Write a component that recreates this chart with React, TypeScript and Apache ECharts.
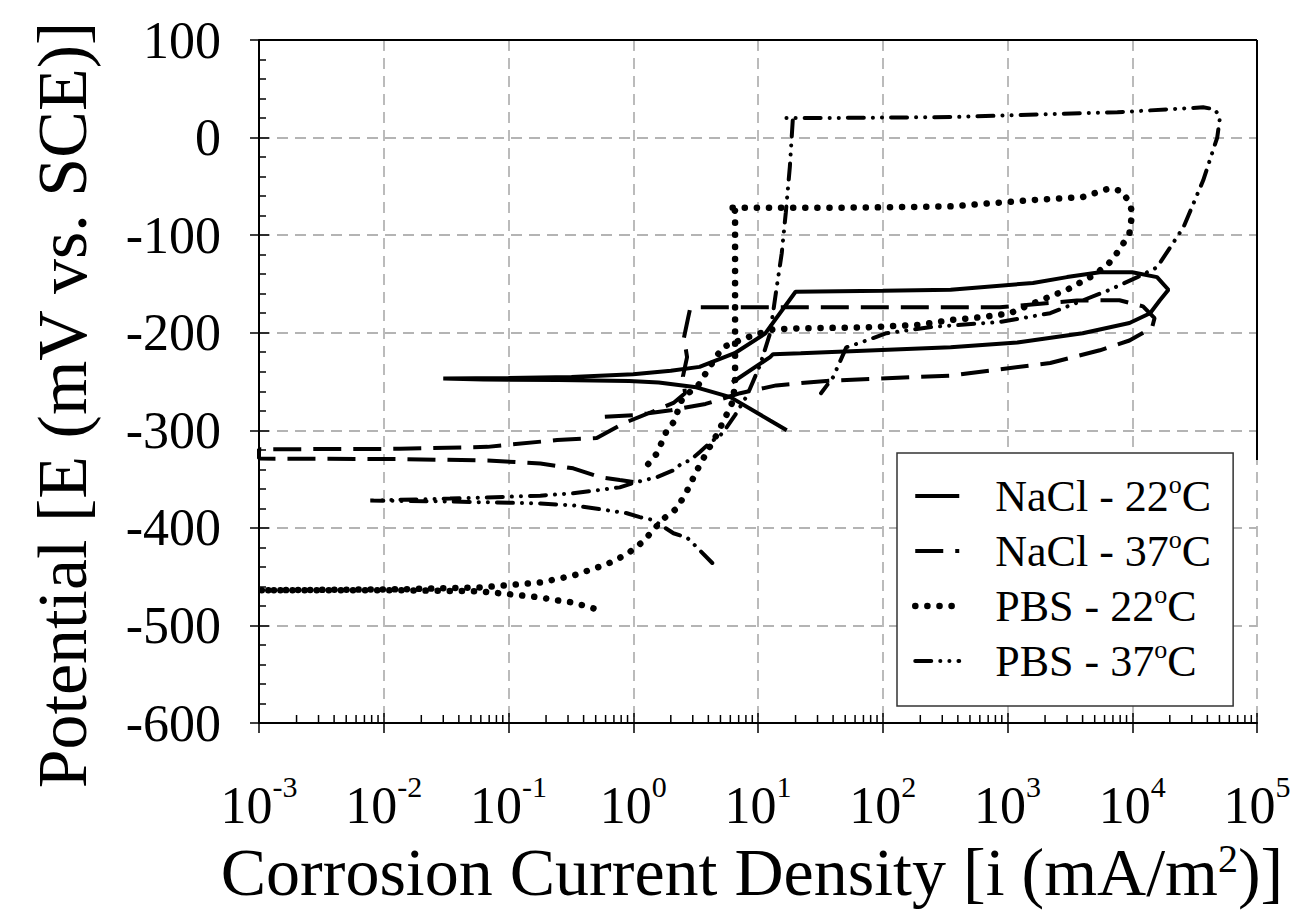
import React, { useEffect, useRef } from "react";
import * as echarts from "echarts";

// ---- axis settings ----
const xMin = 0.001;
const xMax = 100000;
const yMin = -600;
const yMax = 100;
const yStep = 100;

// minor tick multipliers for the log axis (2..9 inside each decade)
const decadeStarts = [0.001, 0.01, 0.1, 1, 10, 100, 1000, 10000];
const minorMultipliers = [2, 3, 4, 5, 6, 7, 8, 9];

const seriesNames = ["NaCl - 22oC", "NaCl - 37oC", "PBS - 22oC", "PBS - 37oC"];

// ---- data: [current density (mA/m2), potential (mV vs SCE)] ----
const nacl22: [number, number][] = [
  [17, -300], [12.5, -290], [6.0, -266], [3.2, -256], [1.6, -251], [0.93, -249.5],
  [0.25, -248.5], [0.063, -248], [0.03, -247], [0.1, -246.5], [0.32, -245.5],
  [1.0, -242.5], [2.0, -239], [3.4, -235], [6.5, -221], [11.4, -201], [20, -158],
  [100, -157], [350, -156], [1600, -149], [3000, -143], [5500, -138], [10000, -138],
  [15800, -143], [19500, -156], [16600, -167], [13900, -180], [9500, -190],
  [4000, -200.5], [1200, -210], [350, -215], [22, -221], [13.2, -222], [12.5, -225],
  [6.2, -251],
];

const nacl37: [number, number][] = [
  [1.0, -353], [0.78, -351], [0.54, -348], [0.33, -339], [0.18, -334], [0.068, -331],
  [0.0135, -329.5], [0.001, -329],
  [0.001, -319.5], [0.0135, -319], [0.068, -317], [0.245, -310], [0.51, -308],
  [0.83, -293], [1.36, -282], [2.1, -272], [2.6, -262], [2.5, -245], [2.7, -225],
  [2.55, -205], [2.75, -185], [2.85, -176], [3.2, -174], [10, -174], [100, -174],
  [870, -174], [3600, -167], [7900, -166.7], [12200, -173], [15100, -185],
  [14400, -195], [9500, -208], [5500, -218], [2200, -231], [350, -244], [40, -249],
  [25, -251], [14, -254], [7.2, -262], [3.8, -273], [2.0, -279.5], [1.0, -284.5],
  [0.54, -286.5],
];

const pbs22: [number, number][] = [
  [0.48, -482.6], [0.33, -476.5], [0.245, -474.4], [0.18, -471.3], [0.059, -465],
  [0.0135, -464], [0.001, -464],
  [0.001, -463.5], [0.0135, -463], [0.059, -461], [0.18, -456], [0.33, -449],
  [0.62, -437], [0.89, -427], [1.2, -414], [1.73, -391], [2.24, -380], [2.7, -362],
  [3.24, -341], [3.9, -322], [4.7, -304], [5.6, -284], [6.3, -270], [6.55, -250],
  [6.55, -150], [6.55, -75], [5.75, -72], [7.1, -72], [32, -72], [100, -71.5],
  [350, -70.5], [1600, -64], [4000, -61], [6600, -52], [8300, -55], [9500, -67],
  [10000, -77], [9500, -98], [7900, -115], [6300, -131], [4600, -143], [3000, -156],
  [1600, -170], [1050, -180], [630, -184], [350, -187], [190, -192], [74, -194.5],
  [22, -195.5], [13.2, -196.5], [10.4, -200.5], [8.1, -205], [5.2, -215],
  [4.1, -235], [3.24, -256], [2.6, -264], [2.37, -272], [2.16, -290], [1.86, -300],
  [1.55, -323.6], [1.2, -341],
];

const pbs37: [number, number][] = [
  [4.3, -436], [3.24, -420], [2.7, -410], [2.1, -405.5], [1.44, -392], [1.13, -389],
  [0.89, -385], [0.62, -382], [0.33, -377], [0.18, -375], [0.034, -373],
  [0.0078, -372],
  [0.034, -370], [0.18, -367], [0.33, -364.5], [0.51, -361.5], [0.78, -358.5],
  [1.0, -354], [1.55, -348], [2.1, -341], [2.5, -333], [2.85, -331], [3.4, -322.5],
  [4.1, -313], [5.0, -305], [5.6, -297], [6.55, -284.5], [8.2, -264], [10.4, -233],
  [12.5, -200.5], [13.9, -159.5], [15.5, -118.5], [16.7, -77], [18, -30], [19, 18],
  [16.6, 20], [32, 20], [350, 21], [7600, 26], [20000, 29], [37000, 31],
  [45700, 29], [50500, 21], [48000, 0], [37000, -44], [25700, -92], [15800, -133],
  [11000, -143], [6600, -156], [2200, -180], [870, -189], [250, -194], [107, -200.5],
  [74, -208], [51, -215], [40, -245.5], [32, -262],
];

const FONT = '"Liberation Serif", "Times New Roman", serif';

export default function App() {
  const ref = useRef<HTMLDivElement>(null);

  useEffect(() => {
    if (!ref.current) return;
    const chart = echarts.init(ref.current, undefined, { renderer: "svg" });

    const minorTicks: number[][] = [];
    decadeStarts.forEach((d) => minorMultipliers.forEach((m) => minorTicks.push([d * m, yMin])));

    const styles: any[] = [
      { color: "#000", width: 4, type: "solid", cap: "butt" },
      { color: "#000", width: 4, type: [28, 12], cap: "butt" },
      { color: "#000", width: 6.5, type: [0.1, 12], cap: "round" },
      { color: "#000", width: 4, type: [16, 9, 0.1, 9, 0.1, 9], cap: "round" },
    ];
    const allData = [nacl22, nacl37, pbs22, pbs37];

    const option: any = {
      animation: false,
      color: ["#000", "#000", "#000", "#000"],
      grid: { left: 259, top: 40, right: 42, bottom: 190, containLabel: false },
      xAxis: [
        {
          type: "log",
          logBase: 10,
          min: xMin,
          max: xMax,
          position: "bottom",
          splitNumber: 8,
          axisLine: { show: true, onZero: false, lineStyle: { color: "#000", width: 2 } },
          axisTick: { show: true, inside: false, length: 10, lineStyle: { color: "#000", width: 1.5 } },
          minorTick: { show: false },
          axisLabel: {
            margin: 48,
            formatter: (v: number) => `{b|10}{s|${Math.round(Math.log10(v))}}`,
            rich: {
              b: { fontFamily: FONT, fontSize: 52, color: "#000", lineHeight: 60, verticalAlign: "bottom" },
              s: { fontFamily: FONT, fontSize: 30, color: "#000", lineHeight: 30, verticalAlign: "top" },
            },
          },
          splitLine: { show: true, lineStyle: { color: "#b4b4b4", width: 1.8, type: [11, 7] } },
        },
        {
          type: "log",
          logBase: 10,
          min: xMin,
          max: xMax,
          position: "bottom",
          offset: 0,
          splitNumber: 8,
          axisLine: { show: false, onZero: false },
          axisTick: { show: true, inside: true, length: 10, lineStyle: { color: "#000", width: 1.5 } },
          axisLabel: { show: false },
          splitLine: { show: false },
        },
      ],
      yAxis: [
        {
          type: "value",
          min: yMin,
          max: yMax,
          interval: yStep,
          position: "left",
          axisLine: { show: true, onZero: false, lineStyle: { color: "#000", width: 2 } },
          axisTick: { show: true, inside: false, length: 9, lineStyle: { color: "#000", width: 1.5 } },
          axisLabel: { margin: 38, fontFamily: FONT, fontSize: 52, color: "#000" },
          splitLine: { show: true, lineStyle: { color: "#b4b4b4", width: 1.8, type: [11, 7] } },
        },
        {
          type: "value",
          min: yMin,
          max: yMax,
          interval: yStep,
          position: "left",
          offset: 0,
          axisLine: { show: false, onZero: false },
          axisTick: { show: true, inside: true, length: 10, lineStyle: { color: "#000", width: 1.5 } },
          minorTick: { show: true, splitNumber: 5, length: 7, lineStyle: { color: "#000", width: 1.5 } },
          axisLabel: { show: false },
          splitLine: { show: false },
        },
      ],
      legend: {
        data: seriesNames.map((n, i) => ({
          name: n,
          itemStyle: { opacity: 0 },
          lineStyle: { ...styles[i], width: i === 2 ? 6.5 : 4 },
        })),
        orient: "vertical",
        left: 897,
        top: 453,
        padding: [18, 22, 20, 15],
        itemWidth: 44,
        itemHeight: 14,
        itemGap: 5,
        backgroundColor: "#fff",
        borderColor: "#333",
        borderWidth: 1.5,
        borderRadius: 0,
        formatter: (name: string) => name.replace("oC", "{sup|o}C"),
        textStyle: {
          fontFamily: FONT,
          fontSize: 44,
          color: "#000",
          lineHeight: 50,
          padding: [0, 0, 0, 31],
          rich: {
            sup: { fontFamily: FONT, fontSize: 26, color: "#000", lineHeight: 26, verticalAlign: "top" },
          },
        },
      },
      graphic: [
        {
          type: "line",
          z: 10,
          shape: { x1: 259, y1: 40, x2: 1257, y2: 40 },
          style: { stroke: "#000", lineWidth: 2 },
        },
        {
          type: "line",
          z: 10,
          shape: { x1: 1257, y1: 40, x2: 1257, y2: 460 },
          style: { stroke: "#000", lineWidth: 2 },
        },
        {
          type: "text",
          x: 62,
          y: 405,
          rotation: Math.PI / 2,
          style: {
            text: "Potential [E (mV vs. SCE)]",
            fontFamily: FONT,
            fontSize: 70,
            fill: "#000",
            align: "center",
            verticalAlign: "middle",
          },
        },
        {
          type: "text",
          x: 752,
          y: 872,
          style: {
            text: "Corrosion Current Density [i (mA/m{sup|2})]",
            fontFamily: FONT,
            fontSize: 68,
            fill: "#000",
            align: "center",
            verticalAlign: "middle",
            rich: {
              sup: { fontFamily: FONT, fontSize: 40, fill: "#000", lineHeight: 40, verticalAlign: "top" },
            },
          },
        },
      ],
      series: [
        ...seriesNames.map((n, i) => ({
          type: "line",
          name: n,
          data: allData[i],
          showSymbol: false,
          symbol: "none",
          z: 3,
          itemStyle: { color: "#000" },
          lineStyle: styles[i],
        })),
        {
          type: "custom",
          name: "minorTicks",
          silent: true,
          clip: false,
          z: 5,
          data: minorTicks,
          renderItem: (_params: any, api: any) => {
            const p = api.coord([api.value(0), api.value(1)]);
            return {
              type: "line",
              shape: { x1: p[0], y1: p[1], x2: p[0], y2: p[1] - 8 },
              style: { stroke: "#000", lineWidth: 1.5 },
            };
          },
        },
      ],
    };

    chart.setOption(option);
    return () => chart.dispose();
  }, []);

  return (
    <div
      ref={ref}
      style={{ position: "absolute", left: 0, top: 0, width: 1299, height: 913, background: "#fff" }}
    />
  );
}
